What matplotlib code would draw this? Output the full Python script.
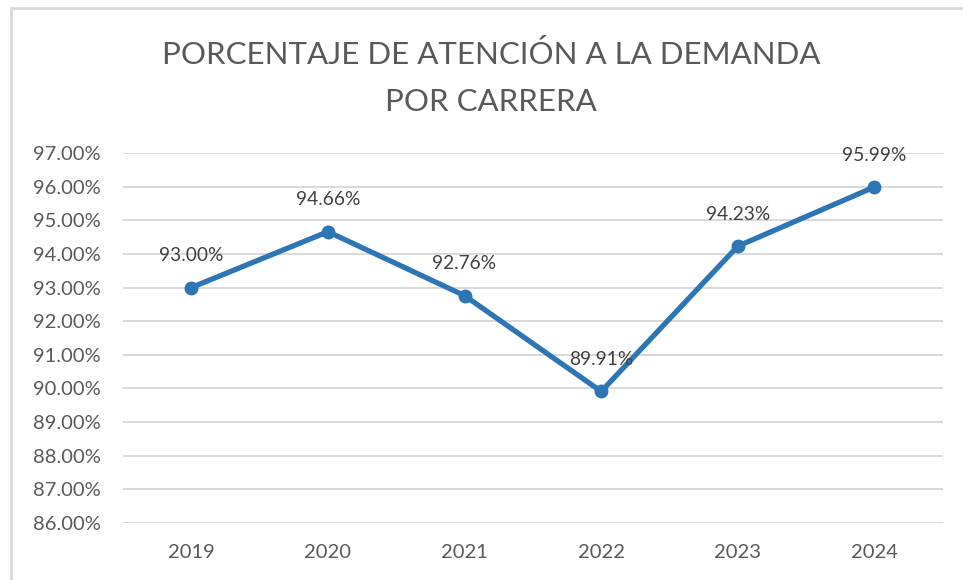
import matplotlib.pyplot as plt
from matplotlib.patches import Rectangle

years = ['2019', '2020', '2021', '2022', '2023', '2024']
percentages = [93.00, 94.66, 92.76, 89.91, 94.23, 95.99]
y_ticks = [86, 87, 88, 89, 90, 91, 92, 93, 94, 95, 96, 97]

plt.rcParams['font.family'] = ['Lato', 'DejaVu Sans']
text_color = '#595959'
line_color = '#2E75B6'

fig = plt.figure(figsize=(9.63, 5.8), dpi=100)
ax = fig.add_axes([0.1277, 0.0983, 0.8513, 0.6379])

# chart frame (only left and top edges show in the crop)
fig.patches.append(Rectangle((11 / 963, -0.1), 1.2, 1.1 - 8 / 580,
                             transform=fig.transFigure, fill=False,
                             edgecolor='#d9d9d9', linewidth=2))

x = list(range(len(years)))
ax.plot(x, percentages, color=line_color, linewidth=3.8, marker='o',
        markersize=9, solid_capstyle='round', zorder=3)

for xi, v in zip(x, percentages):
    ax.annotate(f'{v:.2f}%', (xi, v), xytext=(0, 23), textcoords='offset points',
                ha='center', va='center', fontsize=13.8, color='#404040', zorder=4)

ax.set_xlim(-0.5, len(years) - 0.5)
ax.set_ylim(86, 97)
ax.set_yticks(y_ticks)
ax.set_yticklabels([f'{t:.2f}%' for t in y_ticks])
ax.set_xticks(x)
ax.set_xticklabels(years)
ax.tick_params(axis='both', length=0, labelsize=14.5, colors=text_color)
ax.tick_params(axis='y', pad=16)
ax.tick_params(axis='x', pad=15)
ax.grid(axis='y', color='#d9d9d9', linewidth=1.4)
ax.set_axisbelow(True)
for s in ax.spines.values():
    s.set_visible(False)

fig.text(491 / 963, 1 - 78 / 580, 'PORCENTAJE DE ATENCIÓN A LA DEMANDA\nPOR CARRERA',
         ha='center', va='center', fontsize=22.5, color=text_color,
         linespacing=1.8)

fig.savefig('out.png', dpi=100)
